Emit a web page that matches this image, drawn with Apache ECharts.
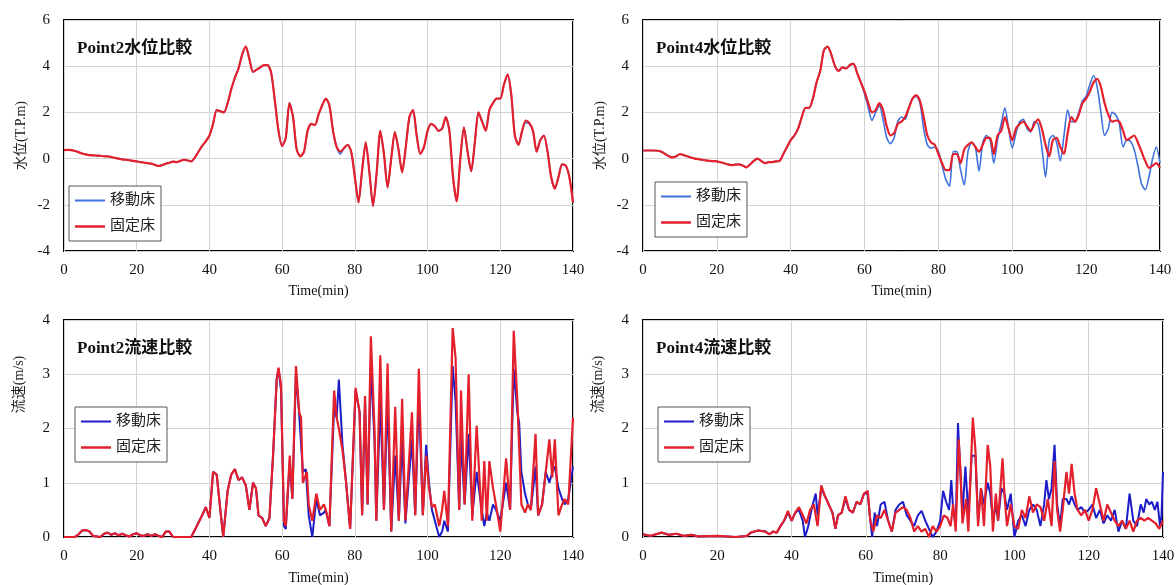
<!DOCTYPE html>
<html>
<head>
<meta charset="utf-8">
<script src="https://cdn.jsdelivr.net/npm/echarts@6/dist/echarts.min.js"></script>
<style>
  html, body { margin: 0; padding: 0; background: #fff; }
  #chart { width: 1176px; height: 585px; }
</style>
</head>
<body>
<div id="chart"></div>
<script>
// water level, one value per minute (t = 0..140)
const p2LevelMove = [
  0.37, 0.38, 0.37, 0.33, 0.28, 0.22, 0.18, 0.15, 0.14, 0.13,
  0.12, 0.1, 0.1, 0.07, 0.03, 0.0, -0.03, -0.05, -0.07, -0.1,
  -0.12, -0.15, -0.17, -0.2, -0.22, -0.27, -0.32, -0.28, -0.22, -0.18,
  -0.13, -0.15, -0.1, -0.05, -0.08, -0.12, 0.05, 0.3, 0.55, 0.75,
  1.0, 1.5, 2.1, 2.05, 2.0, 2.4, 3.0, 3.5, 3.9, 4.5,
  4.85, 4.3, 3.75, 3.85, 3.95, 4.05, 4.05, 3.7, 2.5, 1.2,
  0.55, 0.9, 2.4, 1.8, 0.4, 0.1, 0.3, 1.2, 1.5, 1.45,
  1.9, 2.3, 2.6, 2.3, 1.2, 0.5, 0.2, 0.45, 0.6, 0.3,
  -0.8, -1.9, -0.5, 0.7, -0.6, -2.05, -0.6, 1.2, 0.2, -1.25,
  0.0, 1.15, 0.4, -0.6, 0.5, 1.8, 2.1, 1.0, 0.2, 0.5,
  1.2, 1.5, 1.4, 1.2, 1.3, 1.8, 1.2, -0.8, -1.85, 0.0,
  1.35, 0.3, -0.55, 0.7, 2.0, 1.6, 1.3, 2.1, 2.4, 2.6,
  2.6, 3.2, 3.6, 2.8, 1.0, 0.6, 1.2, 1.55, 1.5, 1.2,
  0.3, 0.8, 1.0, 0.3, -0.8, -1.3, -0.8, -0.25, -0.3, -0.8, -1.9
];
const p2LevelFixed = [
  0.37, 0.38, 0.37, 0.33, 0.28, 0.22, 0.18, 0.15, 0.14, 0.13,
  0.12, 0.1, 0.1, 0.07, 0.03, 0.0, -0.03, -0.05, -0.07, -0.1,
  -0.12, -0.15, -0.17, -0.2, -0.22, -0.27, -0.32, -0.28, -0.22, -0.18,
  -0.13, -0.15, -0.1, -0.05, -0.08, -0.12, 0.05, 0.3, 0.55, 0.75,
  1.0, 1.5, 2.1, 2.05, 2.0, 2.4, 3.0, 3.5, 3.9, 4.5,
  4.85, 4.3, 3.75, 3.85, 3.95, 4.05, 4.05, 3.7, 2.5, 1.2,
  0.55, 0.9, 2.4, 1.8, 0.4, 0.1, 0.3, 1.2, 1.5, 1.45,
  1.9, 2.3, 2.6, 2.3, 1.2, 0.5, 0.3, 0.45, 0.6, 0.3,
  -0.8, -1.9, -0.5, 0.7, -0.6, -2.05, -0.6, 1.2, 0.2, -1.25,
  0.0, 1.15, 0.4, -0.6, 0.5, 1.8, 2.1, 1.0, 0.2, 0.5,
  1.2, 1.5, 1.4, 1.2, 1.3, 1.8, 1.2, -0.8, -1.85, 0.0,
  1.35, 0.3, -0.55, 0.7, 2.0, 1.6, 1.2, 2.1, 2.4, 2.6,
  2.6, 3.2, 3.65, 2.8, 1.0, 0.6, 1.2, 1.65, 1.55, 1.2,
  0.3, 0.8, 1.0, 0.3, -0.8, -1.3, -0.8, -0.25, -0.3, -0.8, -1.9
];
const p4LevelMove = [
  0.35, 0.35, 0.35, 0.35, 0.34, 0.3, 0.2, 0.1, 0.05, 0.1,
  0.2, 0.15, 0.1, 0.05, 0.0, -0.02, -0.05, -0.08, -0.1, -0.11,
  -0.12, -0.16, -0.2, -0.25, -0.28, -0.26, -0.25, -0.3, -0.38, -0.25,
  -0.1, 0.0, -0.1, -0.2, -0.15, -0.15, -0.12, -0.1, 0.2, 0.5,
  0.8, 1.0, 1.3, 1.8, 2.2, 2.2, 2.6, 3.3, 3.8, 4.7,
  4.85, 4.5, 4.0, 3.8, 3.95, 3.9, 4.05, 4.1, 3.7, 3.3,
  2.8, 2.2, 1.65, 2.0, 2.3, 1.7, 0.9, 0.65, 0.9, 1.6,
  1.8, 1.7, 2.2, 2.6, 2.7, 2.4, 1.3, 0.6, 0.45, 0.5,
  0.3, -0.3, -0.9, -1.2, 0.3, 0.3, -0.5, -1.15, 0.3, 0.7,
  0.5, -0.55, 0.7, 1.0, 0.8, -0.2, 0.8, 1.5, 2.2, 1.3,
  0.45, 1.1, 1.6, 1.7, 1.3, 1.15, 1.6, 1.5, 0.5, -0.8,
  0.8, 1.0, 0.7, -0.1, 1.0, 2.1, 1.6, 1.6, 2.0, 2.5,
  2.7, 3.2, 3.6, 3.1, 2.0, 1.0, 1.3, 2.0, 1.9, 1.5,
  0.5, 0.8, 0.75, 0.4, -0.3, -1.1, -1.35, -0.8, 0.0, 0.5, -0.2
];
const p4LevelFixed = [
  0.35, 0.35, 0.35, 0.35, 0.34, 0.3, 0.2, 0.1, 0.05, 0.1,
  0.2, 0.15, 0.1, 0.05, 0.0, -0.02, -0.05, -0.08, -0.1, -0.11,
  -0.12, -0.16, -0.2, -0.25, -0.28, -0.26, -0.25, -0.3, -0.38, -0.25,
  -0.1, 0.0, -0.1, -0.2, -0.15, -0.15, -0.12, -0.1, 0.2, 0.5,
  0.8, 1.0, 1.3, 1.8, 2.2, 2.2, 2.6, 3.3, 3.8, 4.7,
  4.85, 4.5, 4.0, 3.8, 3.95, 3.9, 4.05, 4.1, 3.7, 3.3,
  2.9, 2.4, 2.0, 2.1, 2.4, 2.1, 1.4, 1.0, 1.1, 1.5,
  1.6, 1.8, 2.2, 2.6, 2.75, 2.5, 1.8, 1.0, 0.7, 0.6,
  0.2, -0.2, -0.5, -0.5, 0.2, 0.2, -0.2, 0.4, 0.6, 0.7,
  0.5, 0.3, 0.6, 0.9, 0.9, 0.2, 1.0, 1.2, 1.8, 1.3,
  0.8, 1.3, 1.5, 1.6, 1.4, 1.2, 1.5, 1.7, 1.3, 0.6,
  0.1, 0.8, 0.9, 0.5, 0.2, 1.1, 1.8, 1.6, 1.9, 2.4,
  2.6, 2.9, 3.3, 3.45, 3.1, 2.4, 1.9, 1.6, 1.65, 1.6,
  1.2, 0.8, 0.9, 1.0, 0.7, 0.3, -0.1, -0.4, -0.3, -0.2, -0.4
];

// velocity, [minute, m/s] vertices
const p2VelMove = [
  [0, 0], [3, 0], [4, 0.05], [5, 0.12], [6, 0.13], [7, 0.1], [8, 0.02], [10, 0], [11, 0.06], [12, 0.08],
  [13, 0.04], [14, 0.07], [15, 0.03], [16, 0.06], [17, 0.03], [18, 0.01], [19, 0.05], [20, 0.07], [21, 0.03], [22, 0.02],
  [23, 0.05], [24, 0.02], [25, 0.05], [26, 0.02], [27, 0], [28, 0.1], [29, 0.1], [30, 0], [35, 0], [36.5, 0.2],
  [38, 0.4], [39, 0.55], [40, 0.35], [41, 1.2], [42, 1.15], [43, 0.5], [43.8, 0], [45, 0.85], [46, 1.15], [47, 1.25],
  [48, 1.05], [49, 1.1], [50, 0.95], [51, 0.5], [52, 1.0], [52.8, 0.9], [53.5, 0.4], [54.5, 0.35], [55.5, 0.2], [56.5, 0.35],
  [57.5, 1.5], [58.5, 2.9], [59, 3.1], [59.7, 2.7], [60.5, 0.2], [61, 0.15], [62.1, 1.4], [62.8, 0.7], [63.8, 3.0], [64.7, 2.25],
  [65.2, 2.25], [65.7, 1.2], [66.5, 1.25], [67.3, 0.4], [68.3, 0.0], [69.4, 0.7], [70.4, 0.4], [71.5, 0.45], [72, 0.5], [73, 0.2],
  [74.3, 2.4], [75, 2.2], [75.6, 2.9], [76.6, 1.7], [77.6, 1.0], [78.7, 0.15], [80.2, 2.7], [81.3, 2.3], [82, 0.4], [82.8, 2.5],
  [83.5, 0.6], [84.4, 3.15], [85.4, 1.8], [85.9, 0.3], [87, 2.5], [88, 0.5], [89, 2.5], [90, 0.1], [91.1, 1.5], [92.1, 0.3],
  [93, 1.8], [93.9, 0.25], [95.7, 1.8], [96.6, 0.4], [97.6, 2.6], [98.7, 0.4], [99.6, 1.7], [100.4, 1.0], [101.2, 0.5], [102, 0.3],
  [103.2, 0.0], [104, 0.1], [104.6, 0.3], [105.6, 0.1], [106.9, 3.15], [107.7, 2.5], [108.7, 0.5], [109.2, 1.8], [110.2, 0.6], [111.3, 1.9],
  [112.3, 0.4], [113.5, 1.2], [114.9, 0.5], [115.6, 0.2], [116.3, 0.45], [117, 0.3], [118, 0.6], [118.8, 0.5], [120, 0.3], [121.6, 1.0],
  [122.7, 0.5], [123.7, 3.1], [124.7, 2.3], [125.2, 2.1], [125.8, 1.2], [126.8, 0.8], [127.6, 0.6], [128.4, 0.5], [129.7, 1.3], [130.4, 0.4],
  [131.5, 0.6], [132.5, 1.2], [133.5, 1.0], [134.3, 1.2], [135, 1.3], [136, 0.9], [137, 0.7], [137.7, 0.6], [138.7, 0.7], [140, 1.3]
];
const p2VelFixed = [
  [0, 0], [3, 0], [4, 0.05], [5, 0.12], [6, 0.13], [7, 0.1], [8, 0.02], [10, 0], [11, 0.06], [12, 0.08],
  [13, 0.04], [14, 0.07], [15, 0.03], [16, 0.06], [17, 0.03], [18, 0.01], [19, 0.05], [20, 0.07], [21, 0.03], [22, 0.02],
  [23, 0.05], [24, 0.02], [25, 0.05], [26, 0.02], [27, 0], [28, 0.1], [29, 0.1], [30, 0], [35, 0], [36.5, 0.2],
  [38, 0.4], [39, 0.55], [40, 0.35], [41, 1.2], [42, 1.15], [43, 0.5], [43.8, 0], [45, 0.85], [46, 1.15], [47, 1.25],
  [48, 1.05], [49, 1.1], [50, 0.95], [51, 0.5], [52, 1.0], [52.8, 0.9], [53.5, 0.4], [54.5, 0.35], [55.5, 0.2], [56.5, 0.35],
  [57.5, 1.5], [58.5, 2.9], [59, 3.12], [59.7, 2.8], [60.5, 0.3], [61, 0.2], [62.1, 1.5], [62.8, 0.7], [63.8, 3.15], [64.7, 2.3],
  [65.2, 2.2], [65.7, 1.0], [66.8, 1.2], [67.3, 0.6], [68.3, 0.3], [69.4, 0.8], [70.4, 0.5], [71.5, 0.6], [72, 0.5], [73, 0.2],
  [74.3, 2.7], [75, 2.2], [75.6, 2.0], [76.6, 1.6], [77.6, 1.0], [78.7, 0.15], [80.2, 2.75], [81.3, 2.3], [82, 0.4], [82.8, 2.6],
  [83.5, 0.6], [84.4, 3.7], [85.4, 2.0], [85.9, 0.3], [87, 3.35], [88, 0.5], [89, 3.2], [90, 0.1], [91.1, 2.4], [92.1, 0.3],
  [93, 2.55], [93.9, 0.3], [95.7, 2.3], [96.6, 0.4], [97.6, 3.1], [98.7, 0.4], [99.6, 1.5], [100.4, 0.9], [101.2, 0.55], [102, 0.6],
  [103.2, 0.2], [104, 0.5], [104.6, 0.85], [105.6, 0.2], [106.9, 3.85], [107.7, 3.3], [108.7, 0.5], [109.2, 2.7], [110.2, 0.6], [111.3, 3.0],
  [112.3, 0.3], [113.5, 2.05], [114.9, 0.3], [115.6, 1.4], [116.3, 0.3], [117, 1.4], [118, 0.9], [118.8, 0.6], [120, 0.1], [121.6, 1.45],
  [122.7, 0.5], [123.7, 3.8], [124.7, 2.5], [125.8, 0.6], [126.8, 0.45], [127.6, 0.6], [128.4, 0.5], [129.7, 1.9], [130.4, 0.4], [131.5, 0.6],
  [132.5, 1.2], [133.5, 1.8], [134.3, 1.1], [135, 1.8], [136, 0.4], [137, 0.6], [137.7, 0.7], [138.7, 0.6], [140, 2.2]
];
const p4VelMove = [
  [0, 0.05], [2, 0.02], [5, 0.08], [7, 0.04], [9, 0.06], [11, 0.02], [13, 0.04], [15, 0.01], [20, 0.02], [25, 0.0],
  [28, 0.02], [29, 0.08], [31, 0.12], [33, 0.1], [34, 0.05], [35, 0.1], [36, 0.08], [37, 0.2], [38, 0.3], [39, 0.45],
  [40, 0.3], [41, 0.45], [42, 0.5], [43, 0.3], [43.6, 0.0], [44.5, 0.2], [45.5, 0.55], [46.5, 0.8], [47, 0.4], [48, 0.9],
  [49, 0.75], [50, 0.6], [51, 0.45], [51.8, 0.15], [52.5, 0.4], [53.5, 0.45], [54.5, 0.7], [55.5, 0.5], [56.5, 0.45], [57.5, 0.65],
  [58.5, 0.6], [59.5, 0.8], [60.5, 0.8], [61.2, 0.3], [61.7, 0.0], [62.4, 0.45], [63, 0.2], [64, 0.6], [65, 0.65], [66, 0.3],
  [67, 0.1], [68, 0.5], [69, 0.6], [70, 0.65], [71, 0.4], [72, 0.3], [73, 0.2], [74, 0.4], [75, 0.48], [76, 0.3],
  [77, 0.15], [78, 0.0], [79, 0.1], [80, 0.3], [80.8, 0.85], [81.6, 0.65], [82.4, 0.5], [83, 1.05], [83.5, 0.5], [84.2, 0.2],
  [84.8, 2.1], [85.5, 1.1], [86, 0.4], [86.8, 1.3], [87.6, 0.4], [88.5, 1.5], [89.5, 1.5], [90.2, 0.3], [91, 0.9], [91.8, 0.6],
  [92.8, 1.0], [93.5, 0.8], [94.2, 0.3], [95, 0.6], [95.6, 0.3], [96.5, 0.9], [97.3, 0.8], [98, 0.5], [99, 0.8], [100, 0.0],
  [101, 0.3], [102, 0.4], [103, 0.2], [104, 0.5], [105, 0.6], [106, 0.5], [107, 0.2], [108, 0.6], [108.6, 1.05], [109.3, 0.7],
  [110, 0.9], [110.8, 1.7], [111.5, 0.6], [112.3, 0.2], [113, 0.7], [114, 0.7], [114.7, 0.6], [115.4, 0.75], [116.2, 0.6], [117, 0.5],
  [118, 0.55], [119, 0.45], [120, 0.5], [121, 0.6], [122, 0.35], [123, 0.5], [124, 0.25], [125, 0.4], [126, 0.3], [127, 0.5],
  [128, 0.1], [129, 0.3], [130, 0.15], [131, 0.8], [132, 0.3], [133, 0.2], [134, 0.6], [134.8, 0.45], [135.5, 0.7], [136.3, 0.6],
  [137, 0.65], [137.8, 0.5], [138.5, 0.65], [139.2, 0.2], [139.6, 0.4], [140, 1.2]
];
const p4VelFixed = [
  [0, 0.05], [2, 0.02], [5, 0.08], [7, 0.04], [9, 0.06], [11, 0.02], [13, 0.04], [15, 0.01], [20, 0.02], [25, 0.0],
  [28, 0.02], [29, 0.08], [31, 0.12], [33, 0.1], [34, 0.05], [35, 0.1], [36, 0.08], [37, 0.2], [38, 0.3], [39, 0.48],
  [40, 0.3], [41, 0.45], [42, 0.55], [43, 0.4], [44, 0.25], [45, 0.5], [46, 0.6], [47, 0.2], [48, 0.95], [49, 0.75],
  [50, 0.6], [51, 0.45], [51.8, 0.15], [52.5, 0.4], [53.5, 0.45], [54.5, 0.75], [55.5, 0.5], [56.5, 0.45], [57.5, 0.65], [58.5, 0.6],
  [59.5, 0.8], [60.5, 0.85], [61.2, 0.3], [62, 0.1], [63, 0.4], [64, 0.35], [65, 0.5], [66, 0.3], [67, 0.1], [68, 0.45],
  [69, 0.5], [70, 0.55], [71, 0.5], [72, 0.35], [73, 0.1], [74, 0.2], [75, 0.1], [76, 0.15], [77, 0.0], [78, 0.2],
  [79, 0.1], [80, 0.2], [81, 0.4], [82, 0.35], [82.8, 0.2], [83.5, 0.6], [84.2, 0.1], [85, 1.8], [85.5, 1.2], [86, 0.25],
  [87, 0.7], [87.6, 0.1], [88.8, 2.2], [89.5, 1.6], [90.2, 0.2], [91, 0.9], [91.8, 0.2], [92.8, 1.7], [93.5, 1.3], [94.2, 0.1],
  [95, 0.8], [95.6, 0.3], [96.8, 1.45], [97.3, 0.8], [98, 0.2], [99, 0.6], [100, 0.2], [101, 0.15], [102, 0.5], [103, 0.35],
  [104, 0.75], [105, 0.45], [106, 0.6], [107, 0.55], [108, 0.3], [109, 0.7], [110, 0.2], [110.8, 1.4], [111.5, 0.5], [112.3, 0.1],
  [113, 0.5], [114, 1.2], [114.7, 0.8], [115.4, 1.35], [116.2, 0.8], [117, 0.5], [118, 0.4], [119, 0.5], [120, 0.3], [121, 0.5],
  [122, 0.9], [123, 0.6], [124, 0.3], [125, 0.6], [126, 0.45], [127, 0.3], [128, 0.2], [129, 0.3], [130, 0.15], [131, 0.3],
  [132, 0.1], [133, 0.3], [134, 0.35], [135, 0.3], [136, 0.35], [137, 0.3], [138, 0.25], [139, 0.15], [140, 0.3]
];

const titles = ['Point2水位比較', 'Point4水位比較', 'Point2流速比較', 'Point4流速比較'];
const seriesNames = ['移動床', '固定床'];

const FONT = '"Liberation Serif", "Noto Sans CJK JP", serif';
const RED = '#e3202b';
const BLUE_LIGHT = '#3f72de';
const BLUE_DARK = '#1c1cc8';

const grids = [
  { left: 64, top: 20, width: 509, height: 231 },
  { left: 643, top: 20, width: 517, height: 231 },
  { left: 64, top: 320, width: 509, height: 217 },
  { left: 643, top: 320, width: 520, height: 217 }
];
const legendPos = [
  { left: 69, top: 186 },
  { left: 655, top: 182 },
  { left: 75, top: 407 },
  { left: 658, top: 407 }
];
const blues = [BLUE_LIGHT, BLUE_LIGHT, BLUE_DARK, BLUE_DARK];

const byMinute = arr => arr.map((v, i) => [i, v]);
const seriesData = [
  [byMinute(p2LevelMove), byMinute(p2LevelFixed)],
  [byMinute(p4LevelMove), byMinute(p4LevelFixed)],
  [p2VelMove, p2VelFixed],
  [p4VelMove, p4VelFixed]
];

const chart = echarts.init(document.getElementById('chart'));

const splitLine = { show: true, lineStyle: { color: '#d4d4d4', width: 1 } };
const axisLabel = { color: '#111', fontFamily: FONT, fontSize: 15 };

chart.setOption({
  animation: false,
  backgroundColor: '#fff',
  title: titles.map((t, i) => ({
    text: t,
    left: grids[i].left + 8,
    top: grids[i].top + 15,
    textStyle: { fontFamily: FONT, fontSize: 17, fontWeight: 'bold', color: '#111' }
  })),
  grid: grids.map(g => ({
    ...g,
    outerBoundsMode: 'none',
    containLabel: false,
    show: true,
    borderColor: '#000',
    borderWidth: 2,
    backgroundColor: 'transparent'
  })),
  legend: legendPos.map((p, i) => ({
    ...p,
    orient: 'vertical',
    backgroundColor: '#fff',
    borderColor: '#555',
    borderWidth: 1,
    borderRadius: 0,
    padding: [7, 6, 7, 6],
    itemGap: 11,
    itemWidth: 30,
    itemHeight: 12,
    selectedMode: false,
    textStyle: { fontFamily: FONT, fontSize: 15, color: '#222' },
    data: [
      { name: seriesNames[0], icon: 'path://M0,5L30,5L30,7L0,7Z', itemStyle: { color: blues[i] } },
      { name: seriesNames[1], icon: 'path://M0,5L30,5L30,7.5L0,7.5Z', itemStyle: { color: RED } }
    ]
  })),
  xAxis: grids.map((g, i) => ({
    type: 'value',
    gridIndex: i,
    min: 0,
    max: 140,
    interval: 20,
    name: 'Time(min)',
    nameLocation: 'middle',
    nameGap: i < 2 ? 33 : 34,
    nameTextStyle: { fontFamily: FONT, fontSize: 14, color: '#111' },
    axisLine: { show: false },
    axisTick: { show: false },
    axisLabel: { ...axisLabel, margin: 12 },
    splitLine
  })),
  yAxis: grids.map((g, i) => ({
    type: 'value',
    gridIndex: i,
    min: i < 2 ? -4 : 0,
    max: i < 2 ? 6 : 4,
    interval: i < 2 ? 2 : 1,
    name: i < 2 ? '水位(T.P.m)' : '流速(m/s)',
    nameLocation: 'middle',
    nameGap: i < 2 ? 36 : 38,
    nameTextStyle: {
      fontFamily: FONT, fontSize: 14, color: '#222',
      padding: i < 2 ? 0 : [0, 0, 0, 88]
    },
    axisLine: { show: false },
    axisTick: { show: false },
    axisLabel: { ...axisLabel, margin: 14 },
    splitLine
  })),
  series: seriesData.flatMap((pair, i) => [
    {
      name: seriesNames[0],
      type: 'line',
      xAxisIndex: i,
      yAxisIndex: i,
      data: pair[0],
      symbol: 'none',
      smooth: i < 2 ? 0.25 : false,
      color: blues[i],
      lineStyle: { color: blues[i], width: i < 2 ? 1.6 : 2 },
      z: 2
    },
    {
      name: seriesNames[1],
      type: 'line',
      xAxisIndex: i,
      yAxisIndex: i,
      data: pair[1],
      symbol: 'none',
      smooth: i < 2 ? 0.25 : false,
      color: RED,
      lineStyle: { color: RED, width: 2.2 },
      z: 3
    }
  ])
});

window.addEventListener('resize', () => chart.resize());
</script>
</body>
</html>
